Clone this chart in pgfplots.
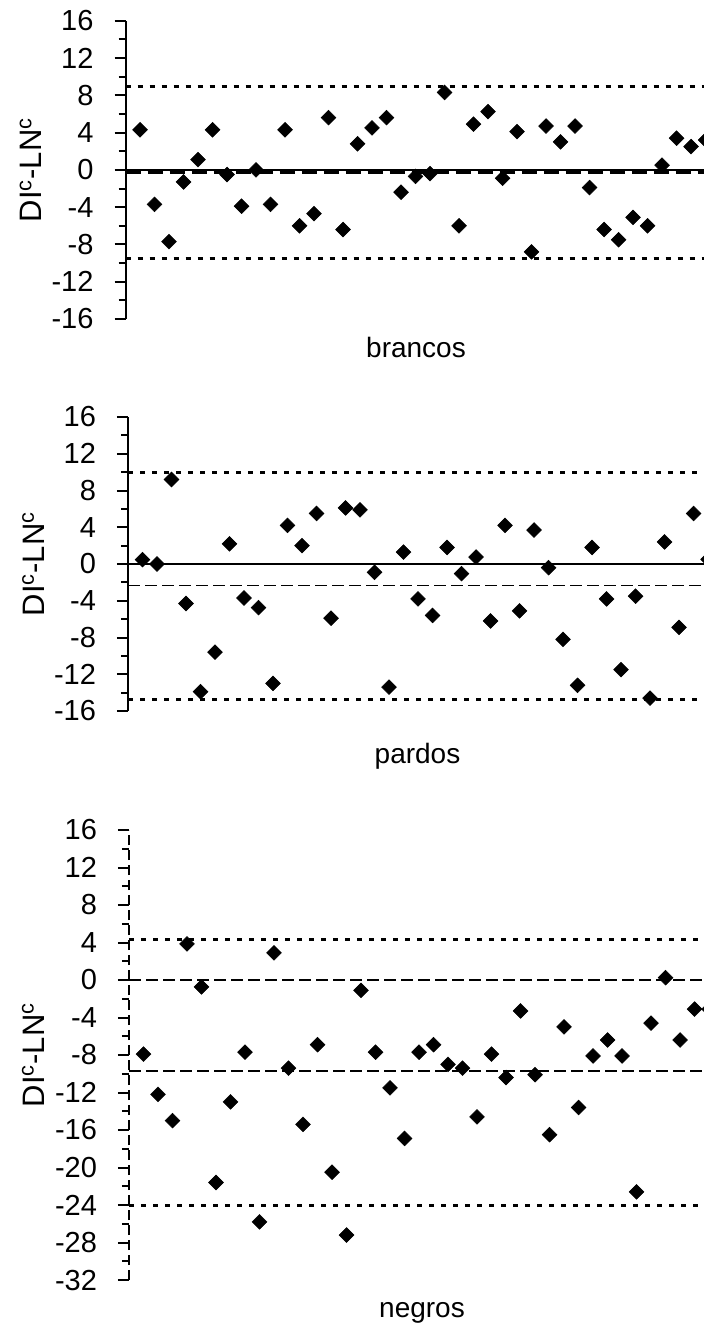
\documentclass[border=0pt]{standalone}
\usepackage{fontspec}
\setmainfont{Liberation Sans}
\usepackage{pgfplots}
\pgfplotsset{compat=1.18}

\newcommand{\bigfs}{\fontsize{14}{16.8}\selectfont}
\newcommand{\tickfs}{\fontsize{14.5}{17}\selectfont}
\newcommand{\labfs}{\fontsize{15.5}{18}\selectfont}

\pgfplotsset{
  every axis/.append style={font=\bigfs},
  every tick label/.append style={font=\tickfs},
  panel/.style={
    scale only axis, width=290.75pt,
    xmin=0, xmax=40.1,
    axis x line=none, axis y line*=left,
    xtick=\empty,
    tick align=outside,
    major tick length=5.5pt, minor tick length=3.5pt,
    minor y tick num=1,
    every tick/.style={black, line width=1pt},
    axis line style={line width=1pt},
    yticklabel style={font=\tickfs, xshift=-7pt},
    ylabel={DI\textsuperscript{c}-LN\textsuperscript{c}},
    ylabel style={font=\labfs, at={(axis description cs:-0.163,0.5)}, anchor=center},
  },
  pts/.style={only marks, mark=square*, mark size=2.6pt,
    mark options={rotate=45, fill=black, draw=black, line width=0.3pt}},
  dotl/.style={black, line width=1.5pt, dash pattern=on 2.5pt off 3.5pt, no marks},
}

\begin{document}
\begin{tikzpicture}[font=\bigfs]

% ---------- brancos ----------
\begin{axis}[panel, name=ax1,
  at={(62.75pt,-159.5pt)}, anchor=south west, height=149.15pt,
  ymin=-16, ymax=16,
  ytick={-16,-12,-8,-4,0,4,8,12,16},
  yticklabels={-16,-12,-8,-4,0,4,8,12,16}]
\addplot[dotl] coordinates {(0,8.9) (40.1,8.9)};
\addplot[dotl] coordinates {(0,-9.5) (40.1,-9.5)};
\addplot[black, line width=1pt, no marks] coordinates {(0,0) (40.1,0)};
\addplot[black, line width=1.5pt, dash pattern=on 7.5pt off 3.5pt, no marks] coordinates {(0,-0.3) (40.1,-0.3)};
\addplot[pts] coordinates {
(1,4.3) (2,-3.7) (3,-7.7) (4,-1.3) (5,1.1) (6,4.3) (7,-0.5) (8,-3.9) (9,0.0) (10,-3.7)
(11,4.3) (12,-6.0) (13,-4.7) (14,5.6) (15,-6.4) (16,2.8) (17,4.5) (18,5.6) (19,-2.4) (20,-0.7)
(21,-0.4) (22,8.3) (23,-6.0) (24,4.9) (25,6.25) (26,-0.9) (27,4.1) (28,-8.8) (29,4.7) (30,3.0)
(31,4.7) (32,-1.9) (33,-6.4) (34,-7.5) (35,-5.1) (36,-6.0) (37,0.5) (38,3.4) (39,2.5) (40,3.2)
};
\end{axis}

% ---------- pardos ----------
\begin{axis}[panel, name=ax2,
  at={(64pt,-355.5pt)}, anchor=south west, height=147pt,
  ymin=-16, ymax=16,
  ytick={-16,-12,-8,-4,0,4,8,12,16},
  yticklabels={-16,-12,-8,-4,0,4,8,12,16}]
\addplot[dotl] coordinates {(0,10.0) (40.1,10.0)};
\addplot[dotl] coordinates {(0,-14.8) (40.1,-14.8)};
\addplot[black, line width=0.75pt, no marks] coordinates {(0,0) (40.1,0)};
\addplot[black, line width=0.8pt, dash pattern=on 6pt off 2.5pt, no marks] coordinates {(0,-2.35) (40.1,-2.35)};
\addplot[pts] coordinates {
(1,0.47) (2,0.0) (3,9.2) (4,-4.3) (5,-13.9) (6,-9.6) (7,2.2) (8,-3.7) (9,-4.75) (10,-13.0)
(11,4.2) (12,2.0) (13,5.5) (14,-5.9) (15,6.1) (16,5.9) (17,-0.9) (18,-13.4) (19,1.3) (20,-3.8)
(21,-5.6) (22,1.8) (23,-1.05) (24,0.76) (25,-6.2) (26,4.2) (27,-5.1) (28,3.7) (29,-0.4) (30,-8.2)
(31,-13.2) (32,1.8) (33,-3.8) (34,-11.5) (35,-3.5) (36,-14.6) (37,2.4) (38,-6.9) (39,5.5) (40,0.5)
};
\end{axis}

% ---------- negros ----------
\begin{axis}[panel, name=ax3,
  at={(64.5pt,-640pt)}, anchor=south west, height=225pt,
  ymin=-32, ymax=16,
  ytick={-32,-28,-24,-20,-16,-12,-8,-4,0,4,8,12,16},
  yticklabels={-32,-28,-24,-20,-16,-12,-8,-4,0,4,8,12,16},
  y axis line style={dash pattern=on 5pt off 2.5pt},
  ylabel style={at={(axis description cs:-0.165,0.5)}}]
\addplot[dotl] coordinates {(0,4.35) (40.1,4.35)};
\addplot[dotl] coordinates {(0,-24.05) (40.1,-24.05)};
\addplot[black, line width=0.8pt, dash pattern=on 6pt off 2.5pt, no marks] coordinates {(0,0) (40.1,0)};
\addplot[black, line width=0.8pt, dash pattern=on 6pt off 2.5pt, no marks] coordinates {(0,-9.7) (40.1,-9.7)};
\addplot[pts] coordinates {
(1,-7.9) (2,-12.2) (3,-15.0) (4,3.85) (5,-0.74) (6,-21.6) (7,-13.0) (8,-7.7) (9,-25.8) (10,2.9)
(11,-9.4) (12,-15.4) (13,-6.9) (14,-20.5) (15,-27.2) (16,-1.1) (17,-7.7) (18,-11.5) (19,-16.9) (20,-7.7)
(21,-6.9) (22,-9.0) (23,-9.4) (24,-14.6) (25,-7.9) (26,-10.4) (27,-3.3) (28,-10.1) (29,-16.5) (30,-5.0)
(31,-13.6) (32,-8.1) (33,-6.4) (34,-8.1) (35,-22.6) (36,-4.6) (37,0.25) (38,-6.4) (39,-3.1) (40,-3.1)
};
\end{axis}

\node[anchor=base] at (208pt,-178.5pt) {brancos};
\node[anchor=base] at (208.75pt,-381.5pt) {pardos};
\node[anchor=base] at (211pt,-658.5pt) {negros};

\pgfresetboundingbox
\path[use as bounding box] (0pt,0pt) rectangle (352pt,-664pt);
\end{tikzpicture}
\end{document}
